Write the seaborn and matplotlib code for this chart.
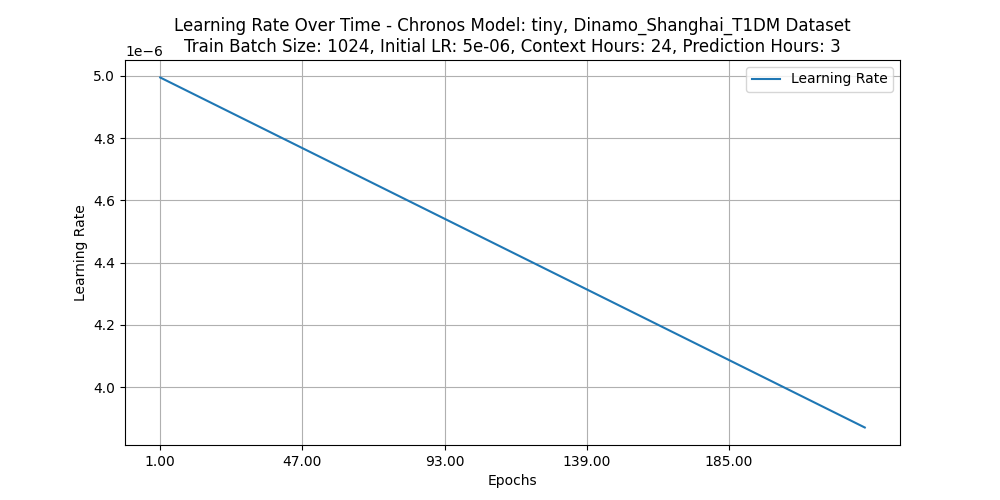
import matplotlib
matplotlib.use("Agg")
import matplotlib.pyplot as plt
import seaborn as sns

# Learning-rate schedule endpoints (linear decay)
epochs = [1, 229]
learning_rates = [4.995e-6, 3.87e-6]
x_ticks = [1, 47, 93, 139, 185]

title = ("Learning Rate Over Time - Chronos Model: tiny, Dinamo_Shanghai_T1DM Dataset\n"
         "Train Batch Size: 1024, Initial LR: 5e-06, Context Hours: 24, Prediction Hours: 3")

fig, ax = plt.subplots(figsize=(10, 5), dpi=100)
sns.lineplot(x=epochs, y=learning_rates, ax=ax, label="Learning Rate", color="#1f77b4")

ax.set_xticks(x_ticks)
ax.set_xticklabels([f"{t:.2f}" for t in x_ticks])
ax.set_xlabel("Epochs")
ax.set_ylabel("Learning Rate")
ax.set_title(title)
ax.legend(loc="upper right")
ax.grid(True)

fig.savefig("out.png", dpi=100)
